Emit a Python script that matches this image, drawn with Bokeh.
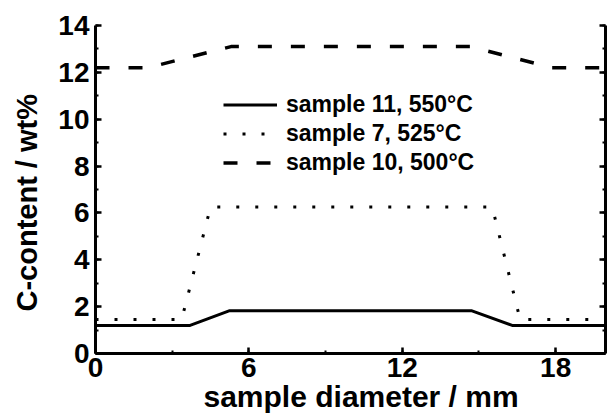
from bokeh.plotting import figure
from bokeh.models import (Range1d, LinearAxis, SingleIntervalTicker, Legend,
                          LegendItem, Title, CustomJSTickFormatter)
from bokeh.embed import file_html
from bokeh.resources import INLINE

# Carbon content across the sample diameter for three nitriding runs
diam_s11 = [0.0, 3.7, 5.25, 14.7, 16.3, 19.95]
carbon_s11 = [1.2, 1.2, 1.83, 1.83, 1.2, 1.2]

diam_s7 = [0.0, 3.37, 4.5, 15.52, 16.61, 19.95]
carbon_s7 = [1.45, 1.45, 6.25, 6.25, 1.45, 1.45]

diam_s10 = [0.0, 2.05, 5.3, 14.65, 17.85, 19.95]
carbon_s10 = [12.2, 12.2, 13.1, 13.1, 12.2, 12.2]

series_labels = ["sample 11, 550°C", "sample 7, 525°C", "sample 10, 500°C"]

FONT = "Liberation Sans"

p = figure(width=608, height=416, output_backend="svg", toolbar_location=None,
           x_range=Range1d(0, 19.95), y_range=Range1d(0, 14),
           x_axis_location=None, y_axis_location=None,
           min_border_left=95, min_border_right=3, min_border_top=25,
           min_border_bottom=63)
p.outline_line_color = None
p.grid.visible = False
p.background_fill_color = "white"
p.border_fill_color = "white"

x_ticker = SingleIntervalTicker(interval=6, num_minor_ticks=2)
y_ticker = SingleIntervalTicker(interval=2, num_minor_ticks=2)


def style_axis(ax):
    ax.axis_line_width = 3
    ax.axis_line_color = "black"
    ax.major_tick_line_color = "black"
    ax.minor_tick_line_color = "black"
    ax.major_tick_line_width = 2.5
    ax.minor_tick_line_width = 2
    ax.major_tick_in = 6
    ax.major_tick_out = 0
    ax.minor_tick_in = 3
    ax.minor_tick_out = 0
    ax.major_label_text_font = FONT
    ax.major_label_text_font_style = "bold"
    ax.major_label_text_color = "black"
    ax.major_label_text_font_size = "28px"


xaxis = LinearAxis(ticker=x_ticker)
style_axis(xaxis)
xaxis.major_label_standoff = 4
p.add_layout(xaxis, "below")

yaxis = LinearAxis(ticker=y_ticker)
style_axis(yaxis)
yaxis.major_label_standoff = 6
p.add_layout(yaxis, "left")

# right-hand frame line with inward ticks, no numbers
raxis = LinearAxis(ticker=y_ticker,
                   formatter=CustomJSTickFormatter(code="return ''"))
style_axis(raxis)
raxis.major_label_standoff = 0
p.add_layout(raxis, "right")

xtitle = Title(text="sample diameter / mm", align="left", offset=108,
               vertical_align="top",
               text_font=FONT, text_font_style="bold", text_font_size="30px",
               text_color="black", standoff=1)
p.add_layout(xtitle, "below")

ytitle = Title(text="C-content / wt%", align="left", offset=42,
               vertical_align="top",
               text_font=FONT, text_font_style="bold", text_font_size="29px",
               text_color="black", standoff=21)
p.add_layout(ytitle, "left")

r11 = p.line(diam_s11, carbon_s11, line_color="black", line_width=3)
r7 = p.line(diam_s7, carbon_s7, line_color="black", line_width=3,
            line_dash="3 16")
r10 = p.line(diam_s10, carbon_s10, line_color="black", line_width=3.5,
             line_dash="14 19")

legend = Legend(items=[LegendItem(label=series_labels[0], renderers=[r11]),
                       LegendItem(label=series_labels[1], renderers=[r7]),
                       LegendItem(label=series_labels[2], renderers=[r10])],
                location=(128, 176), orientation="vertical",
                glyph_width=54, glyph_height=29, label_height=29,
                label_standoff=9, spacing=0, padding=0, margin=0,
                border_line_color=None, background_fill_alpha=0,
                label_text_font=FONT, label_text_font_style="bold",
                label_text_font_size="23px", label_text_color="black")
p.add_layout(legend, "center")

open("out.html", "w").write(file_html(p, INLINE))
